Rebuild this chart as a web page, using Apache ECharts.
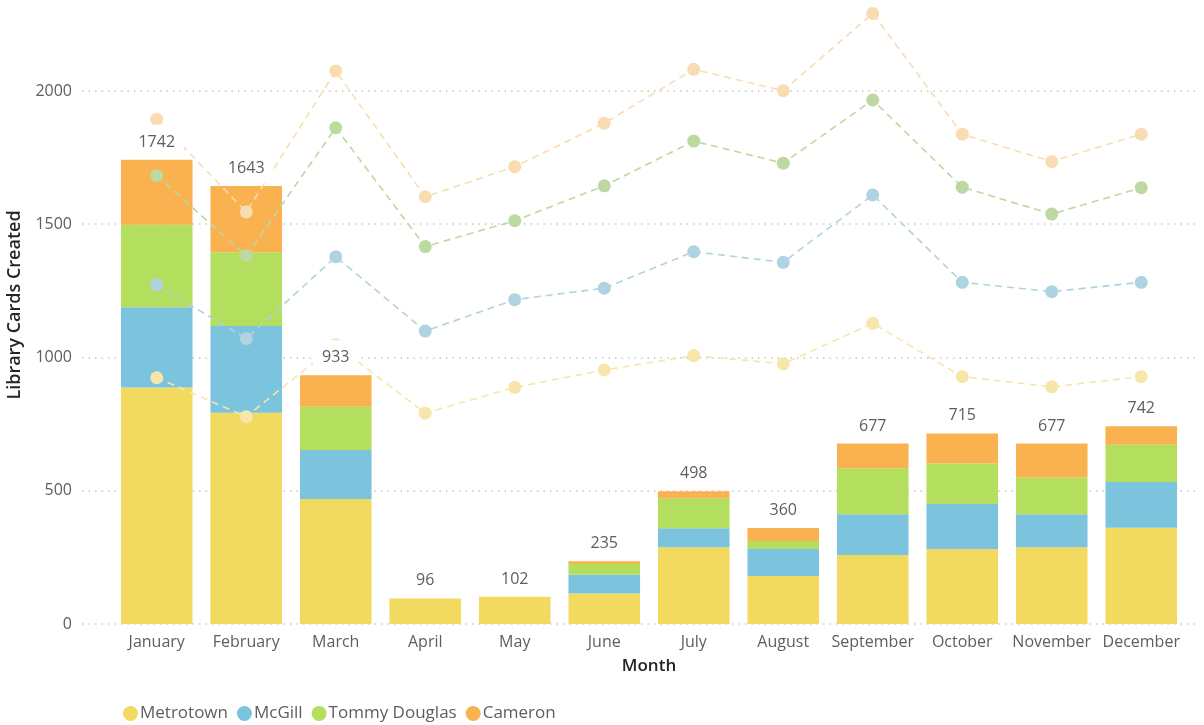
<!DOCTYPE html>
<html>
<head>
<meta charset="utf-8">
<title>Library Cards Created by Month</title>
<script src="https://cdn.jsdelivr.net/npm/echarts@6/dist/echarts.min.js"></script>
<style>
  html, body { margin: 0; padding: 0; background: #ffffff; }
  #chart { width: 1204px; height: 725px; }
</style>
</head>
<body>
<div id="chart"></div>
<script>
// Months on the category axis
const months = ['January', 'February', 'March', 'April', 'May', 'June',
  'July', 'August', 'September', 'October', 'November', 'December'];

// Library cards created per branch (stacked bars)
const metrotown    = [887, 793, 469, 96, 102, 114, 288, 180, 259, 281, 288, 361];
const mcgill       = [301, 325, 184, 0, 0, 71, 71, 101, 153, 169, 124, 172];
const tommyDouglas = [310, 277, 162, 0, 0, 40, 113, 30, 172, 152, 138, 140];
const cameron      = [244, 248, 118, 0, 0, 10, 26, 49, 93, 113, 127, 69];

// Comparison trend, cumulative running level per branch (dashed lines)
const metrotownTrend    = [924, 778, 1048, 791, 888, 953, 1007, 976, 1128, 928, 890, 928];
const mcgillTrend       = [1272, 1071, 1378, 1099, 1217, 1260, 1397, 1357, 1610, 1282, 1247, 1282];
const tommyDouglasTrend = [1682, 1382, 1862, 1416, 1513, 1644, 1812, 1729, 1966, 1639, 1538, 1637];
const cameronTrend      = [1894, 1546, 2075, 1603, 1716, 1879, 2081, 2001, 2291, 1838, 1735, 1838];

// Value axis ticks
const yTicks = [0, 500, 1000, 1500, 2000];

const totals = months.map((_, i) => metrotown[i] + mcgill[i] + tommyDouglas[i] + cameron[i]);

const FONT = '"Open Sans", "Noto Sans", sans-serif';
const Y_MAX = 2300;
const TOP = 11, BOTTOM = 101;

const barColors = {
  'Metrotown': '#F2D95F',
  'McGill': '#7CC4DE',
  'Tommy Douglas': '#B4DE5E',
  'Cameron': '#F9B24F'
};
const trendColors = {
  'Metrotown': '#F6E6A9',
  'McGill': '#AFD3E0',
  'Tommy Douglas': '#BBD9A0',
  'Cameron': '#F9DCB2'
};

function barSeries(name, data) {
  return {
    name: name,
    type: 'bar',
    stack: 'cards',
    xAxisIndex: 1,
    yAxisIndex: 1,
    barCategoryGap: '20%',
    data: data,
    itemStyle: { color: barColors[name] },
    z: 2
  };
}

function trendSeries(name, data) {
  return {
    name: name + ' trend',
    type: 'line',
    xAxisIndex: 1,
    yAxisIndex: 1,
    data: data,
    symbol: 'circle',
    symbolSize: 13,
    clip: false,
    itemStyle: { color: trendColors[name] },
    lineStyle: { color: trendColors[name], width: 1.6, type: [7, 5] },
    z: 3
  };
}

const chart = echarts.init(document.getElementById('chart'), null, { renderer: 'canvas' });

chart.setOption({
  animation: false,
  backgroundColor: '#ffffff',
  textStyle: { fontFamily: FONT },
  grid: [
    // grid carrying the dotted value gridlines and tick labels
    { left: 82, right: 4, top: TOP, bottom: BOTTOM },
    // grid carrying the bars and trend lines
    { left: 112, right: 18, top: TOP, bottom: BOTTOM }
  ],
  xAxis: [
    { type: 'value', gridIndex: 0, min: 0, max: 1, show: false },
    {
      type: 'category',
      gridIndex: 1,
      data: months,
      axisLine: { show: false },
      axisTick: { show: false },
      axisLabel: { color: '#605E5C', fontSize: 16, margin: 10, interval: 0, fontFamily: FONT },
      name: 'Month',
      nameLocation: 'middle',
      nameGap: 34,
      nameTextStyle: { color: '#252423', fontSize: 17, fontWeight: 600, fontFamily: FONT }
    }
  ],
  yAxis: [
    {
      type: 'value',
      gridIndex: 0,
      min: 0,
      max: Y_MAX,
      interval: 500,
      axisLine: { show: false },
      axisTick: { show: false },
      axisLabel: {
        color: '#605E5C',
        fontSize: 16,
        margin: 10,
        fontFamily: FONT,
        showMaxLabel: false,
        formatter: v => (yTicks.indexOf(v) >= 0 ? String(v) : '')
      },
      splitLine: {
        show: true,
        showMaxLine: false,
        lineStyle: { color: '#C8C6C4', width: 1.5, type: [1.5, 5] }
      }
    },
    {
      type: 'value',
      gridIndex: 1,
      min: 0,
      max: Y_MAX,
      show: false,
      splitLine: { show: false }
    }
  ],
  legend: {
    left: 118,
    top: 700,
    icon: 'circle',
    itemWidth: 15,
    itemHeight: 15,
    itemGap: 9,
    selectedMode: false,
    data: ['Metrotown', 'McGill', 'Tommy Douglas', 'Cameron'],
    textStyle: { color: '#605E5C', fontSize: 17, fontFamily: FONT, padding: [0, 0, 0, -3] }
  },
  graphic: [
    {
      type: 'text',
      x: 15,
      y: 305,
      rotation: Math.PI / 2,
      style: {
        text: 'Library Cards Created',
        fill: '#252423',
        font: '600 18px ' + FONT,
        align: 'center',
        verticalAlign: 'middle'
      }
    }
  ],
  series: [
    barSeries('Metrotown', metrotown),
    barSeries('McGill', mcgill),
    barSeries('Tommy Douglas', tommyDouglas),
    barSeries('Cameron', cameron),
    trendSeries('Metrotown', metrotownTrend),
    trendSeries('McGill', mcgillTrend),
    trendSeries('Tommy Douglas', tommyDouglasTrend),
    trendSeries('Cameron', cameronTrend),
    {
      // zero-height cap on each stack that carries the monthly total
      name: 'Total',
      type: 'bar',
      stack: 'cards',
      xAxisIndex: 1,
      yAxisIndex: 1,
      data: totals.map(() => 0),
      silent: true,
      itemStyle: { color: 'rgba(0,0,0,0)' },
      label: {
        show: true,
        position: 'top',
        distance: 3,
        color: '#605E5C',
        fontSize: 16,
        lineHeight: 17,
        fontFamily: FONT,
        backgroundColor: '#ffffff',
        padding: [9, 9, 6, 9],
        formatter: p => String(totals[p.dataIndex])
      },
      z: 5
    }
  ]
});
</script>
</body>
</html>
